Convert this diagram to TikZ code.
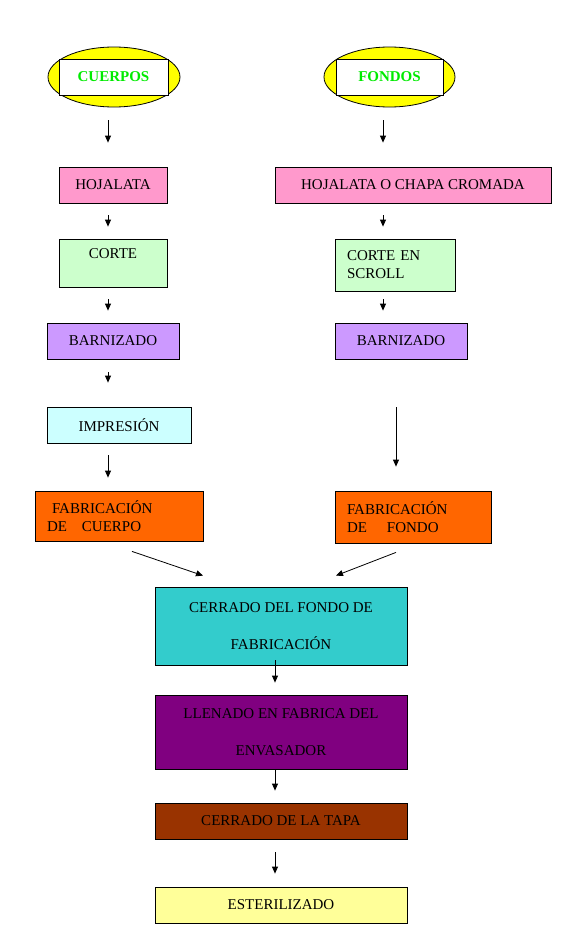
\documentclass[tikz,border=0pt]{standalone}
\usepackage{fontspec}
\setmainfont{Liberation Serif}
\usetikzlibrary{positioning, arrows.meta, shapes.geometric}
\definecolor{ovalyellow}{RGB}{255,255,0}
\definecolor{titlegreen}{RGB}{0,235,0}
\definecolor{tinpink}{RGB}{255,153,204}
\definecolor{cutgreen}{RGB}{204,255,204}
\definecolor{varnishlilac}{RGB}{204,153,255}
\definecolor{printcyan}{RGB}{204,255,255}
\definecolor{makeorange}{RGB}{255,102,0}
\definecolor{closeteal}{RGB}{51,204,204}
\definecolor{fillpurple}{RGB}{128,0,128}
\definecolor{lidbrown}{RGB}{153,51,0}
\definecolor{sterilyellow}{RGB}{255,255,153}

\begin{document}
\begin{tikzpicture}[x=1pt, y=-1pt,
    every node/.style={font=\fontsize{15}{18}\selectfont},
    oval/.style={ellipse, draw=black, fill=ovalyellow, line width=0.8pt, inner sep=0pt},
    tag/.style={rectangle, draw=black, fill=white, line width=0.8pt, inner sep=0pt,
                minimum width=#1, minimum height=36pt,
                text=titlegreen, font=\fontsize{15}{18}\selectfont\bfseries},
    box/.style={rectangle, draw=black, line width=0.8pt, inner sep=0pt,
                minimum height=36pt, align=center},
    lbox/.style={rectangle, draw=black, line width=0.8pt, inner xsep=12pt, inner ysep=0pt,
                 align=left},
    arr/.style={-{Triangle[length=7pt, width=6pt]}, line width=0.8pt, black},
  ]
    \path[use as bounding box] (0,0) rectangle (563,945);
    % column lines for the arrows
    \coordinate (colL) at (108,0);
    \coordinate (colR) at (383,0);
    \coordinate (colR2) at (396,0);
    \coordinate (colM) at (275,0);

    % left column: cuerpos
    \node[oval, minimum width=132pt, minimum height=60pt] (cuerposE) at (114,77) {};
    \node[tag=109pt] (cuerpos) at (113.5,77) {CUERPOS};
    \node[box, fill=tinpink, minimum width=108pt] (hoja) at (113,185) {HOJALATA};
    \node[box, fill=cutgreen, minimum width=108pt, minimum height=48pt] (corte) at (113,263) {CORTE\\\mbox{}};
    \node[box, fill=varnishlilac, minimum width=132pt] (barn) at (113,341) {BARNIZADO};
    \node[box, fill=printcyan, minimum width=144pt] (impr) at (119,425) {IMPRESIÓN};
    \node[lbox, fill=makeorange, text width=144pt, minimum height=50pt] (fabC) at (119,516)
        {\ FABRICACIÓN\\DE\ \ \ CUERPO};

    % right column: fondos
    \node[oval, minimum width=131pt, minimum height=60pt] (fondosE) at (389.5,77) {};
    \node[tag=107pt] (fondos) at (389.5,77) {FONDOS};
    \node[box, fill=tinpink, minimum width=276pt] (hojaF) at (413,185) {HOJALATA O CHAPA CROMADA};
    \node[lbox, fill=cutgreen, text width=96pt, minimum height=52pt] (corteF) at (395,265)
        {CORTE EN\\SCROLL};
    \node[box, fill=varnishlilac, minimum width=132pt] (barnF) at (401,341) {BARNIZADO};
    \node[lbox, fill=makeorange, text width=132pt, minimum height=52pt] (fabF) at (413,517)
        {FABRICACIÓN\\DE\ \ \ \ FONDO};

    % common line
    \node[box, fill=closeteal, minimum width=252pt, minimum height=78pt] (cerrF) at (281,626)
        {CERRADO DEL FONDO DE\\[19pt]FABRICACIÓN};
    \node[box, fill=fillpurple, minimum width=252pt, minimum height=74pt] (llen) at (281,732)
        {LLENADO EN FABRICA DEL\\[19pt]ENVASADOR};
    \node[box, fill=lidbrown, minimum width=252pt] (tapa) at (281,821) {CERRADO DE LA TAPA};
    \node[box, fill=sterilyellow, minimum width=252pt] (est) at (281,905) {ESTERILIZADO};

    % arrows
    \draw[arr, shorten <=13pt, shorten >=24pt] (cuerposE.south -| colL) -- (hoja.north -| colL);
    \draw[arr, shorten <=12pt, shorten >=12pt] (hoja.south -| colL) -- (corte.north -| colL);
    \draw[arr, shorten <=12pt, shorten >=12pt] (corte.south -| colL) -- (barn.north -| colL);
    \draw[arr, shorten <=13pt, shorten >=24pt] (barn.south -| colL) -- (impr.north -| colL);
    \draw[arr, shorten <=12pt, shorten >=13pt] (impr.south -| colL) -- (fabC.north -| colL);
    \draw[arr, shorten <=13pt, shorten >=24pt] (fondosE.south -| colR) -- (hojaF.north -| colR);
    \draw[arr, shorten <=12pt, shorten >=12pt] (hojaF.south -| colR) -- (corteF.north -| colR);
    \draw[arr, shorten <=8pt, shorten >=12pt] (corteF.south -| colR) -- (barnF.north -| colR);
    \draw[arr, shorten <=48pt, shorten >=24pt] (barnF.south -| colR2) -- (fabF.north -| colR2);
    \draw[arr] ([shift={(13pt,-10pt)}]fabC.south) -- ([shift={(-78pt,11pt)}]cerrF.north);
    \draw[arr] ([shift={(-17pt,-9pt)}]fabF.south) -- ([shift={(55pt,11pt)}]cerrF.north);
    \draw[arr, shorten <=-5pt, shorten >=12pt] (cerrF.south -| colM) -- (llen.north -| colM);
    \draw[arr, shorten >=12pt] (llen.south -| colM) -- (tapa.north -| colM);
    \draw[arr, shorten <=13pt, shorten >=13pt] (tapa.south -| colM) -- (est.north -| colM);
  \end{tikzpicture}
\end{document}
